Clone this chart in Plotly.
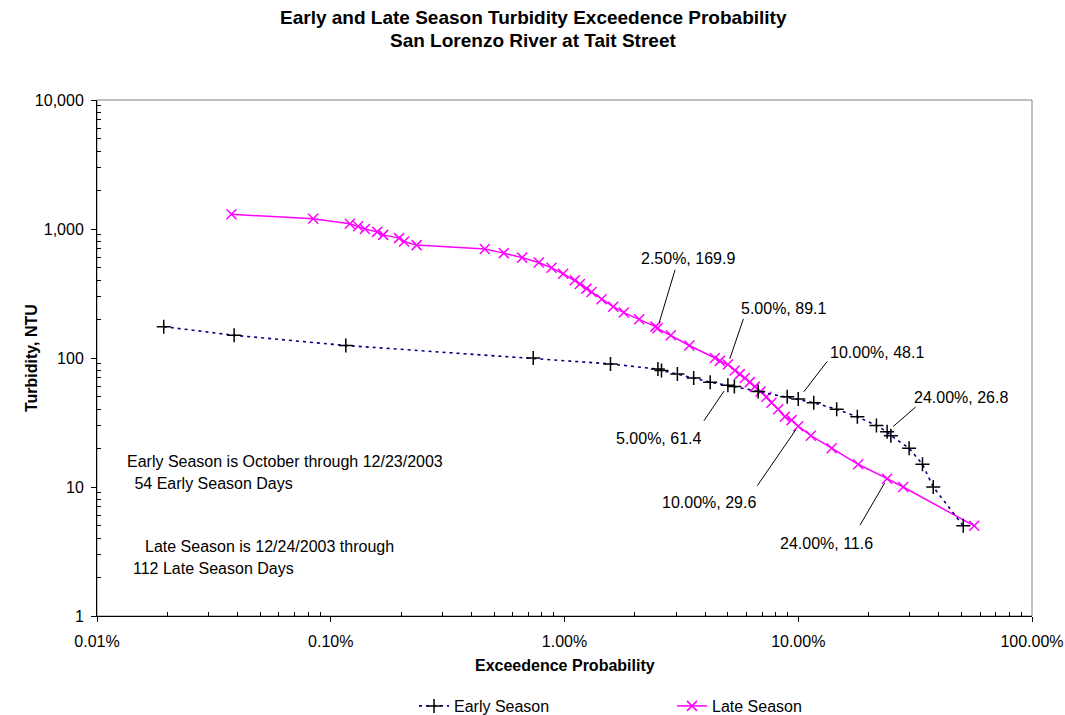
import math
import plotly.graph_objects as go

# ---- data ----
early_prob = [0.0193, 0.0386, 0.116, 0.735, 1.573, 2.51, 2.60, 3.04, 3.57, 4.20, 5.00, 5.33,
              6.74, 8.97, 10.00, 11.65, 14.6, 17.9, 21.6, 24.0, 24.9, 29.8, 34.0, 37.8, 50.8]
early_ntu = [175, 150, 125, 100, 90, 82, 80, 75, 70, 65, 61.4, 60,
             55, 50, 48.1, 45, 40, 35, 30, 26.8, 25, 20, 15, 10, 5]

late_prob = [0.0376, 0.0841, 0.1207, 0.131, 0.140, 0.158, 0.1676, 0.196, 0.206, 0.233,
             0.456, 0.55, 0.659, 0.776, 0.88, 0.987, 1.107, 1.163, 1.242, 1.305,
             1.44, 1.616, 1.794, 2.087, 2.45, 2.50, 2.85, 3.42, 4.40, 4.62,
             5.00, 5.35, 5.62, 5.91, 6.20, 6.52, 6.90, 7.31, 7.68, 8.21,
             8.76, 9.36, 10.00, 11.32, 13.9, 18.05, 24.0, 28.1, 56.6]
late_ntu = [1300, 1200, 1100, 1050, 1000, 950, 900, 850, 800, 750,
            700, 650, 600, 550, 500, 450, 400, 375, 345, 325,
            285, 250, 225, 200, 175, 169.9, 150, 125, 100, 95,
            89.1, 80, 75, 70, 65, 60, 55, 50, 45, 40,
            35, 33, 29.6, 25, 20, 15, 11.6, 10, 5]

x_tick_vals = [0.01, 0.1, 1, 10, 100]
x_tick_text = ["0.01%", "0.10%", "1.00%", "10.00%", "100.00%"]
y_tick_vals = [1, 10, 100, 1000, 10000]
y_tick_text = ["1", "10", "100", "1,000", "10,000"]

# labelled points: (prob, value, text, text offset px, leader tail offset px, standoff)
labels = [
    (2.50, 169.9, "2.50%, 169.9", (30, -70), (18, -60), 6),
    (5.00, 89.1, "5.00%, 89.1", (56, -56), (16, -47), 6),
    (5.00, 61.4, "5.00%, 61.4", (-69, 53), (-25, 37), 7),
    (10.00, 48.1, "10.00%, 48.1", (79, -47), (30, -39), 9),
    (10.00, 29.6, "10.00%, 29.6", (-89, 76), (-42, 61), 4),
    (24.00, 26.8, "24.00%, 26.8", (74, -34), (30, -26), 8),
    (24.00, 11.6, "24.00%, 11.6", (-61, 65), (-28, 48), 5),
]

notes = [
    ("Early Season is October through 12/23/2003", 125, 461),
    (" 54 Early Season Days", 128, 483),
    ("Late Season is 12/24/2003 through", 143, 546),
    ("112 Late Season Days", 131, 568),
]

title_lines = [
    ("Early and Late Season Turbidity Exceedence Probability", 18),
    ("San Lorenzo River at Tait Street", 40),
]

FONT = "Arial, 'Liberation Sans', sans-serif"

W, H = 1065, 715
L, R, T, B = 97, 1032, 100, 616


def px_to_paper_x(px_):
    return (px_ - L) / (R - L)


def px_to_paper_y(py_):
    return (B - py_) / (B - T)


fig = go.Figure()

fig.add_trace(go.Scatter(
    x=late_prob, y=late_ntu, mode="lines+markers", name="Late Season", legendrank=2,
    line=dict(color="#FF00FF", width=1.5),
    marker=dict(symbol="x-thin", size=10, color="#FF00FF", line=dict(color="#FF00FF", width=1.5)),
))
fig.add_trace(go.Scatter(
    x=early_prob, y=early_ntu, mode="lines+markers", name="Early Season", legendrank=1,
    line=dict(color="#000080", width=1.6, dash="3px,4px"),
    marker=dict(symbol="cross-thin", size=10, color="black", line=dict(color="black", width=1.5)),
))

annotations = []
for p, val, txt, toff, loff, so in labels:
    lx, ly = math.log10(p), math.log10(val)
    annotations.append(dict(
        x=lx, y=ly, xref="x", yref="y",
        text="", showarrow=True, arrowhead=0, arrowwidth=1, arrowcolor="black",
        ax=loff[0], ay=loff[1], standoff=so,
    ))
    annotations.append(dict(
        x=lx, y=ly, xref="x", yref="y", text=txt, showarrow=False,
        xshift=toff[0], yshift=-toff[1], xanchor="center", yanchor="middle",
        font=dict(family=FONT, size=16, color="black"),
    ))

for txt, px_, py_ in notes:
    annotations.append(dict(
        x=px_to_paper_x(px_), y=px_to_paper_y(py_), xref="paper", yref="paper",
        text=txt, showarrow=False, xanchor="left", yanchor="middle",
        font=dict(family=FONT, size=16, color="black"),
    ))

for txt, py_ in title_lines:
    annotations.append(dict(
        x=px_to_paper_x(533), y=px_to_paper_y(py_), xref="paper", yref="paper",
        text="<b>" + txt + "</b>", showarrow=False, xanchor="center", yanchor="middle",
        font=dict(family=FONT, size=19, color="black"),
    ))

# axis titles
annotations.append(dict(
    x=px_to_paper_x(31), y=0.5, xref="paper", yref="paper", text="<b>Turbidity, NTU</b>",
    textangle=-90, showarrow=False, xanchor="center", yanchor="middle",
    font=dict(family=FONT, size=16, color="black"),
))
annotations.append(dict(
    x=0.5, y=px_to_paper_y(665), xref="paper", yref="paper", text="<b>Exceedence Probability</b>",
    showarrow=False, xanchor="center", yanchor="middle",
    font=dict(family=FONT, size=16, color="black"),
))

minor_x = [m * 10 ** d for d in range(-2, 2) for m in range(2, 10)]
minor_y = [m * 10 ** d for d in range(0, 4) for m in range(2, 10)]

fig.update_layout(
    width=W, height=H,
    margin=dict(l=L, r=W - R, t=T, b=H - B, pad=0, autoexpand=False),
    paper_bgcolor="white", plot_bgcolor="white",
    font=dict(family=FONT, size=16, color="black"),
    showlegend=True,
    legend=dict(
        orientation="h", xref="container", yref="container",
        x=414 / W, xanchor="left", y=1 - 706 / H, yanchor="middle",
        entrywidth=213, entrywidthmode="pixels",
        font=dict(family=FONT, size=16, color="black"),
        bgcolor="rgba(0,0,0,0)",
    ),
    annotations=annotations,
    shapes=[dict(type="rect", xref="x domain", yref="y domain", x0=0, x1=1, y0=0, y1=1,
                 line=dict(color="#808080", width=1), layer="below")],
)

fig.update_xaxes(
    type="log", range=[-2, 2], showgrid=False, zeroline=False, automargin=False,
    showline=True, linecolor="black", linewidth=1,
    tickmode="array", tickvals=x_tick_vals, ticktext=x_tick_text,
    ticks="outside", ticklen=5, tickcolor="black", tickwidth=1,
    ticklabelstandoff=6,
    tickfont=dict(family=FONT, size=16, color="black"),
    minor=dict(tickmode="array", tickvals=minor_x, ticks="inside", ticklen=4,
               tickcolor="black", tickwidth=1, showgrid=False),
)
fig.update_yaxes(
    type="log", range=[0, 4], showgrid=False, zeroline=False, automargin=False,
    showline=True, linecolor="black", linewidth=1,
    tickmode="array", tickvals=y_tick_vals, ticktext=y_tick_text,
    ticks="outside", ticklen=5, tickcolor="black", tickwidth=1,
    ticklabelstandoff=4,
    tickfont=dict(family=FONT, size=16, color="black"),
    minor=dict(tickmode="array", tickvals=minor_y, ticks="inside", ticklen=4,
               tickcolor="black", tickwidth=1, showgrid=False),
)

# remove the default page margin so the 1065x715 figure fills the window exactly
fig.write_html(
    "out.html",
    config={"displayModeBar": False},
    post_script="document.body.style.margin='0';document.body.style.overflow='hidden';",
)
